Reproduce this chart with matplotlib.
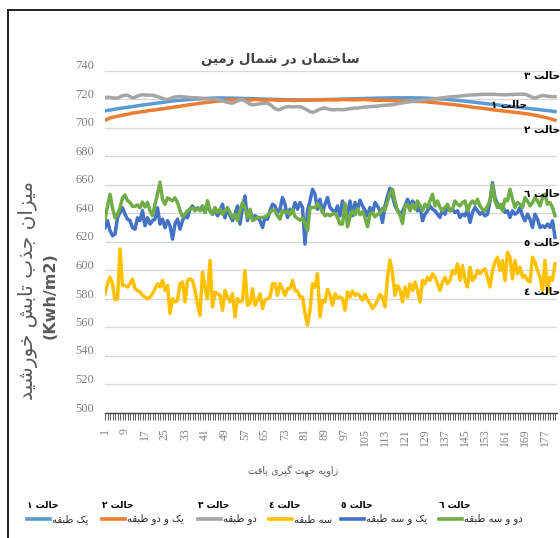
import matplotlib
matplotlib.use("Agg")
import matplotlib.pyplot as plt
from matplotlib.lines import Line2D
from matplotlib.transforms import ScaledTranslation

# ---------------- data ----------------
categories = list(range(1, 182))
x_tick_values = [1, 9, 17, 25, 33, 41, 49, 57, 65, 73, 81, 89, 97, 105, 113,
                 121, 129, 137, 145, 153, 161, 169, 177]
y_tick_values = [500, 520, 540, 560, 580, 600, 620, 640, 660, 680, 700, 720, 740]

case1 = [712, 712.3, 712.6, 712.9, 713.2, 713.5, 713.8, 714.0, 714.3, 714.5,
         714.8, 715.0, 715.3, 715.6, 715.8, 716.1, 716.3, 716.6, 716.8, 717.0,
         717.3, 717.5, 717.7, 718.0, 718.2, 718.5, 718.7, 718.9, 719.1, 719.3,
         719.4, 719.6, 719.7, 719.9, 720.0, 720.1, 720.3, 720.4, 720.5, 720.6,
         720.7, 720.8, 720.9, 721.0, 721.0, 721.1, 721.1, 721.1, 721.0, 721.0,
         721.0, 721.0, 720.9, 720.9, 720.8, 720.8, 720.7, 720.7, 720.6, 720.6,
         720.5, 720.5, 720.4, 720.3, 720.3, 720.2, 720.2, 720.1, 720.1, 720.0,
         720.0, 719.9, 719.9, 719.8, 719.8, 719.8, 719.7, 719.7, 719.7, 719.7,
         719.7, 719.7, 719.7, 719.8, 719.8, 719.8, 719.9, 719.9, 720.0, 720.0,
         720.0, 720.1, 720.1, 720.2, 720.2, 720.3, 720.3, 720.4, 720.4, 720.5,
         720.5, 720.6, 720.6, 720.7, 720.7, 720.8, 720.8, 720.9, 720.9, 721.0,
         721.0, 721.0, 721.1, 721.1, 721.1, 721.2, 721.2, 721.2, 721.2, 721.2,
         721.2, 721.2, 721.2, 721.2, 721.1, 721.1, 721.1, 721.0, 721.0, 720.9,
         720.8, 720.7, 720.6, 720.5, 720.4, 720.3, 720.2, 720.0, 719.9, 719.7,
         719.6, 719.4, 719.2, 719.0, 718.8, 718.6, 718.4, 718.2, 718.0, 717.8,
         717.6, 717.4, 717.2, 717.0, 716.8, 716.6, 716.4, 716.2, 716.0, 715.8,
         715.6, 715.4, 715.2, 715.0, 714.8, 714.6, 714.4, 714.2, 714.0, 713.8,
         713.6, 713.4, 713.2, 713.0, 712.8, 712.6, 712.4, 712.2, 712.0, 711.8, 711.5]

case2 = [705.5, 706.2, 707.0, 707.5, 707.8, 708.3, 708.5, 709.0, 709.3, 709.6,
         710.0, 710.5, 710.6, 711.0, 711.2, 711.5, 711.6, 712.0, 712.3, 712.5,
         712.6, 713.0, 713.2, 713.4, 713.6, 714.0, 714.3, 714.5, 714.8, 715.0,
         715.3, 715.6, 715.8, 716.1, 716.3, 716.6, 716.8, 717.1, 717.4, 717.6,
         717.8, 718.0, 718.2, 718.4, 718.6, 718.8, 719.0, 719.1, 719.3, 719.5,
         719.6, 719.8, 719.8, 719.9, 720.0, 719.8, 719.6, 719.5, 719.6, 719.8,
         720.0, 720.0, 719.8, 719.6, 719.5, 719.6, 719.8, 719.8, 719.6, 719.4,
         719.4, 719.5, 719.6, 719.6, 719.5, 719.3, 719.3, 719.4, 719.5, 719.5,
         719.4, 719.4, 719.5, 719.6, 719.6, 719.7, 719.8, 719.8, 719.8, 719.8,
         719.8, 719.7, 719.7, 719.8, 719.9, 720.0, 720.0, 719.9, 719.8, 719.8,
         719.8, 719.8, 719.9, 720.0, 720.0, 719.9, 719.8, 719.6, 719.5, 719.4,
         719.4, 719.5, 719.5, 719.4, 719.3, 719.2, 719.1, 719.0, 719.0, 718.9,
         718.9, 718.8, 718.8, 718.7, 718.7, 718.6, 718.6, 718.5, 718.5, 718.3,
         718.1, 717.9, 717.8, 717.6, 717.4, 717.2, 717.0, 716.8, 716.6, 716.5,
         716.3, 716.1, 715.9, 715.6, 715.4, 715.2, 714.9, 714.6, 714.4, 714.2,
         714.0, 713.8, 713.6, 713.4, 713.1, 712.8, 712.6, 712.4, 712.2, 712.0,
         711.8, 711.6, 711.4, 711.2, 711.0, 710.8, 710.6, 710.3, 710.1, 709.9,
         709.6, 709.3, 709.0, 708.6, 708.2, 707.8, 707.4, 707.0, 706.6, 706.0, 705.5]

case3 = [721.4, 721.6, 721.5, 721.2, 721.0, 721.0, 721.8, 722.6, 723.0, 723.0,
         722.0, 721.2, 721.5, 722.4, 723.0, 723.3, 723.2, 723.0, 723.1, 723.0,
         722.6, 722.0, 721.5, 720.8, 720.2, 720.0, 720.6, 721.3, 721.8, 722.0,
         722.1, 722.0, 721.8, 721.5, 721.4, 721.2, 721.3, 721.1, 721.0, 720.8,
         720.6, 720.5, 720.3, 720.2, 720.1, 720.0, 719.6, 719.0, 718.4, 718.0,
         717.6, 717.4, 718.2, 719.0, 719.8, 720.0, 719.0, 717.8, 716.8, 716.3,
         716.4, 716.7, 717.0, 717.2, 717.3, 717.4, 716.5, 715.0, 713.6, 712.8,
         713.0, 713.8, 714.6, 715.0, 715.0, 714.8, 714.9, 715.0, 715.0, 714.4,
         713.5, 712.5, 711.5, 711.0, 711.4, 712.4, 713.2, 713.8, 714.0, 713.4,
         713.0, 712.8, 712.8, 713.0, 712.9, 712.8, 713.0, 713.3, 713.6, 713.8,
         714.0, 714.0, 714.2, 714.5, 714.7, 714.9, 715.0, 715.1, 715.2, 715.4,
         715.6, 715.8, 716.0, 716.1, 716.2, 716.3, 716.6, 717.0, 717.3, 717.6,
         717.9, 718.2, 718.4, 718.7, 719.0, 719.2, 719.4, 719.6, 719.8, 720.0,
         720.2, 720.4, 720.6, 720.8, 721.0, 721.2, 721.4, 721.6, 721.8, 722.0,
         722.1, 722.2, 722.4, 722.6, 722.8, 723.0, 723.1, 723.2, 723.3, 723.4,
         723.5, 723.6, 723.6, 723.7, 723.7, 723.7, 723.6, 723.5, 723.4, 723.3,
         723.3, 723.3, 723.4, 723.5, 723.6, 723.7, 723.7, 723.7, 723.7, 723.0,
         722.2, 721.5, 721.0, 721.6, 722.3, 722.8, 722.6, 722.3, 722.1, 722.0, 722.0]

case4 = [583.7, 590.7, 595.3, 590.7, 579.5, 580.0, 615.0, 589.5, 589.5, 588.4,
         590.7, 594.0, 587.2, 586.0, 584.9, 582.5, 581.4, 580.2, 581.4, 583.7,
         587.2, 590.7, 588.4, 593.0, 586.0, 589.5, 569.8, 580.2, 577.9, 579.0,
         590.7, 591.9, 577.9, 593.0, 594.2, 593.0, 586.0, 576.7, 568.6, 598.8,
         588.4, 580.2, 607.0, 574.4, 584.9, 583.7, 582.5, 572.0, 586.0, 581.4,
         578.0, 583.7, 567.4, 580.2, 578.0, 579.0, 600.0, 575.6, 576.7, 587.2,
         575.6, 579.1, 583.7, 573.3, 579.1, 580.2, 581.4, 590.7, 590.7, 582.6,
         590.7, 587.2, 582.6, 587.2, 587.2, 593.0, 586.0, 585.6, 581.4, 581.4,
         569.8, 561.6, 572.1, 590.7, 588.4, 597.7, 567.4, 579.1, 577.9, 586.7,
         582.6, 575.6, 583.7, 580.9, 581.4, 580.2, 572.1, 584.9, 581.4, 585.6,
         582.6, 583.7, 581.9, 579.1, 583.3, 579.5, 576.7, 573.3, 575.6, 579.1,
         583.3, 581.4, 574.4, 595.3, 607.4, 597.7, 582.6, 589.5, 586.5, 578.0,
         588.4, 581.4, 590.7, 586.0, 591.9, 586.0, 577.9, 593.0, 590.7, 595.3,
         593.0, 597.7, 595.3, 590.7, 586.0, 591.9, 595.3, 590.7, 593.0, 600.0,
         597.7, 604.7, 593.0, 603.5, 593.0, 588.4, 602.3, 593.0, 595.3, 600.0,
         597.7, 600.0, 601.2, 595.3, 588.4, 600.0, 605.8, 609.3, 600.0, 607.0,
         593.0, 612.8, 609.3, 594.2, 607.0, 597.7, 602.3, 595.3, 596.5, 593.0,
         591.9, 609.3, 605.8, 600.0, 595.3, 586.0, 607.0, 584.9, 595.3, 593.0, 604.7]

case5 = [630.0, 635.0, 628.0, 624.4, 625.6, 637.0, 640.7, 644.0, 639.5, 636.0,
         635.0, 630.0, 629.0, 637.0, 635.0, 642.0, 631.4, 637.0, 632.6, 635.0,
         636.0, 644.0, 632.6, 636.0, 630.0, 635.0, 631.4, 622.0, 632.6, 636.0,
         629.0, 635.0, 638.4, 637.0, 643.0, 645.3, 642.0, 644.0, 642.0, 645.3,
         640.7, 646.5, 642.0, 639.5, 644.0, 638.4, 642.0, 646.5, 637.0, 644.0,
         638.4, 635.0, 639.5, 645.3, 632.6, 644.0, 652.3, 635.0, 642.0, 637.0,
         638.4, 637.2, 634.9, 630.2, 637.2, 636.0, 641.9, 646.5, 645.3, 640.7,
         643.0, 651.2, 646.5, 637.2, 643.0, 641.4, 647.7, 643.0, 647.7, 644.2,
         618.6, 641.9, 648.8, 657.0, 653.5, 643.0, 650.0, 640.7, 646.5, 651.2,
         644.2, 642.3, 640.7, 645.3, 638.4, 648.8, 643.0, 639.5, 648.8, 638.4,
         647.7, 643.0, 649.3, 645.3, 642.3, 638.4, 644.2, 640.0, 647.7, 645.3,
         641.9, 633.7, 645.3, 652.3, 657.7, 652.3, 645.3, 642.3, 640.0, 641.4,
         645.3, 650.0, 645.3, 648.8, 646.5, 641.9, 645.3, 634.9, 639.5, 641.9,
         645.3, 643.0, 641.9, 639.5, 637.2, 643.0, 639.5, 645.3, 641.9, 643.0,
         640.7, 641.9, 637.2, 639.5, 638.4, 643.0, 633.7, 640.7, 644.2, 641.9,
         639.5, 640.7, 638.4, 639.5, 648.8, 661.6, 651.2, 646.5, 644.2, 646.5,
         640.7, 641.9, 637.2, 641.9, 639.5, 640.7, 644.2, 638.4, 634.9, 639.5,
         636.0, 630.2, 639.5, 636.0, 630.2, 631.4, 630.2, 632.6, 630.2, 634.9, 623.2]

case6 = [636.0, 645.0, 653.5, 644.0, 637.0, 639.5, 644.0, 651.0, 653.0, 649.0,
         647.7, 645.0, 645.0, 646.0, 644.0, 648.0, 644.6, 647.7, 642.0, 638.4,
         646.5, 653.5, 662.0, 650.0, 646.5, 651.0, 650.0, 649.0, 651.0, 647.7,
         642.0, 637.7, 639.5, 642.0, 643.0, 644.0, 642.0, 644.0, 642.0, 645.0,
         640.7, 649.0, 642.0, 639.5, 644.0, 640.7, 643.0, 639.5, 642.0, 644.0,
         640.7, 637.0, 639.5, 635.0, 642.0, 647.7, 644.0, 637.0, 643.0, 635.0,
         636.0, 637.2, 637.2, 637.2, 637.7, 638.6, 640.7, 642.6, 641.9, 638.4,
         636.0, 642.3, 640.7, 641.4, 639.1, 643.0, 637.9, 636.5, 635.3, 636.7,
         632.6, 628.0, 644.2, 644.2, 644.2, 647.0, 644.2, 641.4, 638.4, 639.5,
         638.4, 639.5, 640.2, 637.2, 632.6, 632.6, 647.0, 630.7, 637.7, 641.9,
         639.1, 643.5, 639.1, 641.4, 637.2, 630.7, 639.5, 640.7, 637.7, 639.5,
         640.0, 643.7, 642.3, 648.4, 654.0, 657.0, 648.8, 641.9, 639.1, 633.0,
         645.3, 646.5, 641.9, 646.5, 643.0, 648.8, 645.3, 641.9, 646.5, 644.2,
         648.8, 653.5, 645.3, 648.8, 644.2, 641.9, 644.2, 646.5, 641.9, 643.0,
         648.8, 646.5, 645.3, 647.7, 648.8, 641.9, 646.5, 648.8, 646.5, 650.0,
         645.3, 643.0, 641.9, 645.3, 648.8, 660.5, 648.8, 644.2, 646.5, 641.9,
         650.0, 648.8, 657.0, 650.0, 644.2, 647.7, 646.5, 644.2, 651.2, 648.8,
         645.3, 647.7, 651.2, 648.8, 645.3, 651.2, 653.5, 646.5, 647.7, 644.2, 638.4]

series_values = [case1, case2, case3, case4, case5, case6]
series_colors = ["#5B9BD5", "#ED7D31", "#A5A5A5", "#FFC000", "#4472C4", "#70AD47"]
case_names = ["حالت ١", "حالت ٢", "حالت ٣", "حالت ٤", "حالت ٥", "حالت ٦"]
legend_names = ["یک طبقه", "یک و دو طبقه", "دو طبقه", "سه طبقه", "یک و سه طبقه", "دو و سه طبقه"]
title_text = "ساختمان در شمال زمین"
ylabel_text = "میزان جذب تابش خورشید"
ylabel_unit = "(Kwh/m2)"
xlabel_text = "زاویه جهت گیری بافت"

# ---------------- minimal Persian shaping (matplotlib has no RTL layout) ----------------
FORMS = {
    "ا": ("\uFE8D", "\uFE8E"), "د": ("\uFEA9", "\uFEAA"), "ذ": ("\uFEAB", "\uFEAC"),
    "ر": ("\uFEAD", "\uFEAE"), "ز": ("\uFEAF", "\uFEB0"), "ژ": ("\uFB8A", "\uFB8B"),
    "و": ("\uFEED", "\uFEEE"),
    "ب": ("\uFE8F", "\uFE90", "\uFE91", "\uFE92"), "پ": ("\uFB56", "\uFB57", "\uFB58", "\uFB59"),
    "ت": ("\uFE95", "\uFE96", "\uFE97", "\uFE98"), "ث": ("\uFE99", "\uFE9A", "\uFE9B", "\uFE9C"),
    "ج": ("\uFE9D", "\uFE9E", "\uFE9F", "\uFEA0"), "چ": ("\uFB7A", "\uFB7B", "\uFB7C", "\uFB7D"),
    "ح": ("\uFEA1", "\uFEA2", "\uFEA3", "\uFEA4"), "خ": ("\uFEA5", "\uFEA6", "\uFEA7", "\uFEA8"),
    "س": ("\uFEB1", "\uFEB2", "\uFEB3", "\uFEB4"), "ش": ("\uFEB5", "\uFEB6", "\uFEB7", "\uFEB8"),
    "ص": ("\uFEB9", "\uFEBA", "\uFEBB", "\uFEBC"), "ط": ("\uFEC1", "\uFEC2", "\uFEC3", "\uFEC4"),
    "ع": ("\uFEC9", "\uFECA", "\uFECB", "\uFECC"), "ف": ("\uFED1", "\uFED2", "\uFED3", "\uFED4"),
    "ق": ("\uFED5", "\uFED6", "\uFED7", "\uFED8"), "ک": ("\uFB8E", "\uFB8F", "\uFB90", "\uFB91"),
    "گ": ("\uFB92", "\uFB93", "\uFB94", "\uFB95"), "ل": ("\uFEDD", "\uFEDE", "\uFEDF", "\uFEE0"),
    "م": ("\uFEE1", "\uFEE2", "\uFEE3", "\uFEE4"), "ن": ("\uFEE5", "\uFEE6", "\uFEE7", "\uFEE8"),
    "ه": ("\uFEE9", "\uFEEA", "\uFEEB", "\uFEEC"),
    "ی": ("\uFEEF", "\uFEF0", "\uFEF3", "\uFEF4"),
}


def fa(text):
    out = []
    n = len(text)
    for k, c in enumerate(text):
        forms = FORMS.get(c)
        if forms is None:
            out.append(c)
            continue
        prev = text[k - 1] if k > 0 else None
        nxt = text[k + 1] if k < n - 1 else None
        jp = prev in FORMS and len(FORMS[prev]) == 4
        jn = len(forms) == 4 and nxt in FORMS
        if jp and jn:
            out.append(forms[3])
        elif jp:
            out.append(forms[1])
        elif jn:
            out.append(forms[2])
        else:
            out.append(forms[0])
    return "".join(reversed(out))


# ---------------- figure ----------------
W, H = 560, 538
fig = plt.figure(figsize=(W / 100, H / 100), dpi=100)
fig.patch.set_facecolor("white")


def fx(px):
    return px / W


def fy(py):
    return 1 - py / H


# outer chart frame (top and left edges visible)
fig.add_artist(Line2D([fx(8), fx(8)], [fy(538), fy(10)], color="#202020", lw=1.4))
fig.add_artist(Line2D([fx(8), fx(560)], [fy(10), fy(10)], color="#202020", lw=1.4))

ax = fig.add_axes([fx(105), fy(413), fx(557) - fx(105), (413 - 71) / H])
for vals, col in zip(series_values, series_colors):
    ax.plot(categories, vals, color=col, lw=2.5, solid_joinstyle="round", zorder=3)

ax.set_xlim(1, 181.8)
ax.set_ylim(500, 740)
ax.set_yticks(y_tick_values)
ax.set_yticklabels([str(v) for v in y_tick_values], fontfamily="Liberation Serif",
                   fontsize=9, color="#808080")
ax.grid(axis="y", color="#D9D9D9", lw=1.0)
ax.set_axisbelow(True)
ax.tick_params(axis="y", length=0, pad=8)
for lbl in ax.get_yticklabels():
    lbl.set_transform(lbl.get_transform() + ScaledTranslation(0, 0.06, fig.dpi_scale_trans))

ax.set_xticks(x_tick_values)
ax.set_xticklabels([str(v) for v in x_tick_values], rotation=90, fontfamily="Liberation Serif",
                   fontsize=8.5, color="#808080", va="top")
ax.set_xticks(categories, minor=True)
ax.tick_params(axis="x", which="both", direction="out", length=5, width=0.6,
               color="#404040", pad=6)

for s in ["top", "right", "left"]:
    ax.spines[s].set_visible(False)
ax.spines["bottom"].set_color("#404040")
ax.spines["bottom"].set_linewidth(1.0)

# end-of-line labels
label_offsets = [(-28, 7), (5, -10), (5, 21), (5, -28), (5, -6), (5, 22)]
for name, vals, off in zip(case_names, series_values, label_offsets):
    ax.annotate(fa(name), xy=(categories[-1], vals[-1]), xytext=off,
                textcoords="offset pixels", ha="right", va="center",
                fontsize=7.5, fontweight="bold", family=["DejaVu Sans"],
                color="black", annotation_clip=False, zorder=5)

# titles
fig.text(fx(280), fy(60), fa(title_text), ha="center", va="center", fontsize=9.5,
         fontweight="bold", color="#404040", family=["DejaVu Sans"])
fig.text(fx(293), fy(471), fa(xlabel_text), ha="center", va="center", fontsize=7,
         color="#595959", family=["DejaVu Sans"])
fig.text(fx(28), fy(290), fa(ylabel_text), ha="center", va="center", fontsize=14.5,
         rotation=90, color="#595959", family=["DejaVu Sans"])
fig.text(fx(50), fy(296), ylabel_unit, ha="center", va="center", fontsize=11.5,
         rotation=90, color="#595959", fontweight="bold", family=["DejaVu Sans"])

# legend (drawn as a row under the plot)
legend_x = [27, 102, 198, 269, 341, 439]
for lx, col, name, cname in zip(legend_x, series_colors, legend_names, case_names):
    fig.add_artist(Line2D([fx(lx), fx(lx + 23)], [fy(519), fy(519)], color=col, lw=2.6))
    fig.text(fx(lx + 25), fy(519), fa(name), ha="left", va="center", fontsize=7.2,
             color="#262626", family=["DejaVu Sans"])
    fig.text(fx(lx), fy(505), fa(cname), ha="left", va="center", fontsize=6.5,
             fontweight="bold", color="black", family=["DejaVu Sans"])

fig.savefig("out.png", dpi=100)
